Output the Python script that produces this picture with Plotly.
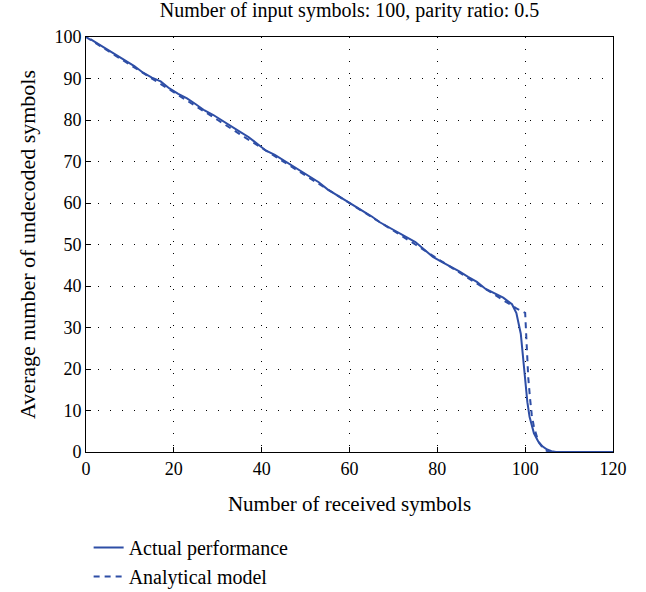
import plotly.graph_objects as go

# Actual performance
actual_x = [1, 3, 5, 7, 9, 11, 13, 15, 17, 19, 21, 23, 25, 27, 29, 31, 33, 35, 37, 39,
            41, 43, 45, 47, 49, 51, 53, 55, 57, 59, 61, 63, 65, 67, 69, 71, 73, 75, 77, 79,
            81, 83, 85, 87, 89, 91, 93, 95, 97, 98, 99, 100, 100.5, 101, 102, 103, 104, 105,
            106, 107, 120]
actual_y = [99.5, 98.2, 96.8, 95.6, 94.2, 93.0, 91.4, 90.2, 89.3, 87.6, 86.3, 85.2, 83.8, 82.3,
            81.2, 79.8, 78.6, 77.2, 75.9, 74.2, 72.6, 71.6, 70.3, 68.9, 67.6, 66.2, 65.0, 63.3,
            62.0, 60.6, 59.5, 58.0, 56.8, 55.3, 54.1, 52.8, 51.6, 50.6, 48.8, 47.0, 45.8, 44.7,
            43.5, 42.2, 41.0, 39.3, 38.3, 37.2, 35.6, 33.5, 28.5, 17.5, 12.0, 8.5, 4.5, 2.5,
            1.3, 0.6, 0.2, 0.0, 0.0]

# Analytical model
model_x = [0, 5, 10, 15, 20, 25, 30, 35, 40, 45, 50, 55, 60, 65, 70, 75, 80, 85, 90, 95,
           98, 100, 100.3, 100.7, 101.1, 101.5, 102, 103, 104, 105, 106, 120]
model_y = [100, 96.7, 93.3, 90.0, 86.6, 83.3, 80.0, 76.6, 73.3, 70.0, 66.6, 63.3, 60.0, 56.6,
           53.3, 50.0, 46.6, 43.3, 40.0, 36.6, 34.6, 33.5, 25.0, 18.0, 13.0, 9.0, 6.0, 2.5,
           1.0, 0.2, 0.0, 0.0]

title_text = "Number of input symbols: 100, parity ratio: 0.5"
x_title = "Number of received symbols"
y_title = "Average number of undecoded symbols"
names = ["Actual performance", "Analytical model"]

blue = "#2e4ea6"
font = "Liberation Serif"

fig = go.Figure()
fig.add_trace(go.Scatter(x=actual_x, y=actual_y, mode="lines", name=names[0],
                         line=dict(color=blue, width=2)))
fig.add_trace(go.Scatter(x=model_x, y=model_y, mode="lines", name=names[1],
                         line=dict(color=blue, width=2, dash="6px,5px")))

axis_common = dict(showline=True, linecolor="black", linewidth=1, mirror=True,
                   ticks="inside", ticklen=5, tickcolor="black",
                   showgrid=True, gridcolor="black", gridwidth=1, griddash="1px,11px",
                   zeroline=False, tickfont=dict(size=18, color="black", family=font))

fig.update_layout(
    width=646, height=592,
    paper_bgcolor="white", plot_bgcolor="white",
    margin=dict(l=86, r=33, t=37, b=140, autoexpand=False),
    font=dict(family=font, size=18, color="black"),
    title=dict(text=title_text, x=0.5, xref="paper", y=0.995, yanchor="top",
               font=dict(size=20, family=font, color="black")),
    xaxis=dict(range=[0, 120], tickvals=[0, 20, 40, 60, 80, 100, 120],
               title=dict(text=x_title, font=dict(size=21), standoff=18), **axis_common),
    yaxis=dict(range=[0, 100], tickvals=list(range(0, 101, 10)),
               title=dict(text=y_title, font=dict(size=22), standoff=12), **axis_common),
    legend=dict(x=0.005, y=-0.183, xanchor="left", yanchor="top", bgcolor="rgba(0,0,0,0)",
                font=dict(size=20, family=font), tracegroupgap=0),
    showlegend=True,
)

fig.write_html("out.html")
